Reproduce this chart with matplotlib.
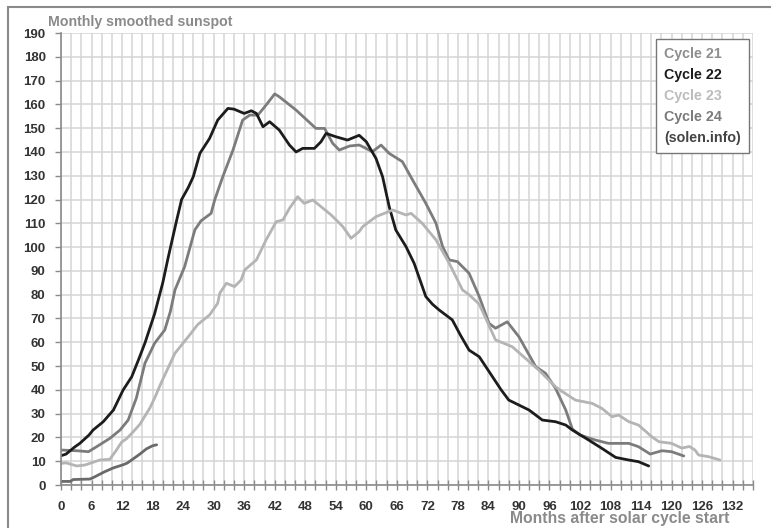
import matplotlib.pyplot as plt
from matplotlib.patches import Rectangle
from matplotlib.ticker import MultipleLocator

plt.rcParams['font.family'] = ['Liberation Sans', 'DejaVu Sans']

# months after cycle start / smoothed sunspot number
c21_m = [0, 2, 3.1, 5.4, 7, 9.6, 11.6, 13.2, 14.8, 16.5, 18.4, 20.4, 21.5, 22.4, 24.3, 26.3, 27.5, 29.5, 30.2,
         31.8, 33.8, 35.7, 37.1, 38.7, 40.3, 42, 42.9, 46.2, 50.1, 51.8, 53.4, 54.7, 56.7, 58.6, 59.3, 61.2,
         62.9, 64.5, 67.1, 69.1, 71.7, 73.7, 75, 76.3, 77.9, 80.2, 82.2, 84.1, 85.4, 87.7, 90, 93.3, 95.2,
         97.2, 99.2, 100.5, 102, 105, 107.6, 111.6, 113.5, 115.8, 118.1, 120, 122.4]
c21_v = [14.7, 14.5, 14.4, 14, 16.1, 19.6, 23.1, 27.3, 36.5, 51.2, 59.6, 65.2, 73, 82, 91.8, 107.2, 111, 114.2, 119.8,
         129.6, 140.8, 153.4, 155.5, 155.5, 159.7, 164.4, 163.2, 157.6, 149.9, 149.9, 143.6, 140.8, 142.5, 142.9, 142.2, 140.1,
         142.9, 139.4, 135.9, 128.2, 118.4, 110, 100.2, 94.6, 93.9, 89, 79.2, 68, 65.9, 68.6, 62.3, 49.7, 47,
         40.6, 31.5, 23.5, 21, 18.9, 17.5, 17.5, 16.1, 13, 14.4, 14, 12.2]

c22_m = [0, 1, 2.7, 3.7, 5.5, 6.3, 8.3, 10.3, 12.2, 13.9, 15.3, 16.5, 18.4, 20, 21, 21.7, 22.7, 23.7, 25, 26,
         27.3, 29.2, 30.8, 32.8, 34, 35.1, 36, 37.4, 38.4, 39.7, 41, 42.9, 44.9, 46.2, 47.5, 49.8, 51.1, 52.1,
         54, 56.3, 58.6, 60, 61.9, 63.2, 64.5, 65.8, 67.8, 69.4, 71.7, 73, 74.3, 76.9, 78.5, 80.2, 82.2, 84.8,
         86.5, 88, 90, 92, 94.6, 97.2, 99.2, 100.5, 103.7, 106.3, 109, 111.6, 113.5, 115.5]
c22_v = [12.3, 13, 16, 17.5, 21, 23.1, 26.6, 31.5, 39.9, 45.5, 53, 59.7, 72, 85, 95, 101.6, 111, 120, 125, 129.6,
         139.4, 145.7, 153.4, 158.3, 158, 157, 156.2, 157.3, 156.2, 150.6, 152.7, 149.2, 142.9, 140, 141.5, 141.5, 144.3, 147.8,
         146.4, 145, 147, 144.3, 137.3, 129.6, 117, 107.2, 100.2, 93.2, 79.2, 76, 73.6, 69.4, 63, 56.7, 53.9, 45.5,
         40, 35.7, 33.6, 31.5, 27.3, 26.6, 25.2, 23.1, 18.9, 15.4, 11.6, 10.5, 9.8, 8]

c23_m = [0, 1, 3.1, 4.7, 5.7, 7.6, 9.6, 10.9, 11.9, 12.9, 13.9, 15.5, 17.5, 18.5, 19.7, 21, 22.4, 25, 26.9, 29.2,
         30.8, 31.2, 32.5, 34.1, 35.4, 36.1, 38.4, 40.3, 42.3, 43.6, 44.9, 46.5, 47.8, 49.5, 51.1, 53.1, 55.4,
         57, 58.6, 59.3, 61.9, 65.2, 67.8, 68.8, 71, 73.7, 76.3, 78.9, 80.2, 82.2, 85.4, 88.7, 93.9, 97.2, 98,
         101.1, 104.4, 106.3, 108.3, 109.6, 111.6, 113.5, 116.1, 117.5, 120, 122, 123.5, 124.6, 125.3, 127.3, 129.5]
c23_v = [9.1, 9.3, 8, 8.4, 9.1, 10.5, 10.8, 14.7, 18, 19.5, 21.7, 25.5, 32.5, 37, 43, 49, 55.4, 62.3, 67.5, 71.5,
         76.4, 80.6, 84.8, 83.4, 86.2, 90.4, 94.6, 103, 110.7, 111.4, 116.3, 121.2, 118.4, 119.8, 117, 113.5, 108.6,
         103.7, 106.5, 108.6, 112.8, 115.6, 113.5, 114.2, 110, 103, 93.2, 82, 80, 76, 61, 58.1, 48.3, 41.3, 40,
         35.7, 34.3, 32.2, 28.7, 29.4, 26.6, 25.2, 20.3, 18.2, 17.5, 15.5, 16.2, 14.7, 12.6, 11.9, 10.5]

c24_m = [0, 1.8, 2.4, 5.7, 6.7, 7.6, 8.6, 10.3, 12.2, 13, 14.2, 15.5, 16.8, 18, 18.8]
c24_v = [1.5, 1.5, 2.3, 2.5, 3.5, 4.5, 5.6, 7.2, 8.5, 9.2, 11, 13, 15.2, 16.5, 16.9]

labels = ['Cycle 21', 'Cycle 22', 'Cycle 23', 'Cycle 24']
line_colors = ['#7c7c7c', '#1c1c1c', '#b4b4b4', '#6a6a6a']
text_colors = ['#8e8e8e', '#1c1c1c', '#bcbcbc', '#7a7a7a', '#444444']

fig = plt.figure(figsize=(7.71, 5.28), dpi=100)
ax = fig.add_axes([61/771, 43/528, 692/771, 452/528])

lines = []
for m, v, c, lab in zip([c21_m, c22_m, c23_m, c24_m], [c21_v, c22_v, c23_v, c24_v], line_colors, labels):
    l, = ax.plot(m, v, color=c, lw=2, label=lab, solid_capstyle='round')
    lines.append(l)

ax.set_xlim(0, 136)
ax.set_ylim(0, 190)
ax.xaxis.set_major_locator(MultipleLocator(6))
ax.xaxis.set_minor_locator(MultipleLocator(2))
ax.yaxis.set_major_locator(MultipleLocator(10))
ax.set_axisbelow(True)
ax.grid(True, which='both', axis='x', color='#d4d4d4', lw=1.1)
ax.grid(True, which='major', axis='y', color='#d4d4d4', lw=1.1)

for s in ['top', 'right']:
    ax.spines[s].set_visible(False)
for s in ['left', 'bottom']:
    ax.spines[s].set_color('#8a8a8a')
    ax.spines[s].set_linewidth(1.2)

ax.tick_params(axis='x', which='both', direction='inout', length=7, color='#8a8a8a', width=1, pad=8)
ax.tick_params(axis='y', direction='out', length=4, color='#8a8a8a', width=1, pad=7)
for t in ax.get_xticklabels() + ax.get_yticklabels():
    t.set_fontweight('bold')
    t.set_fontsize(9.5)
    t.set_color('#333333')

# legend: only coloured text, no line handles
extra = plt.Line2D([], [], color='none')
leg = ax.legend(lines + [extra], labels + ['(solen.info)'], loc='upper right',
                bbox_to_anchor=(0.994, 0.987), borderaxespad=0, handlelength=0, handletextpad=0,
                fancybox=False, framealpha=1, edgecolor='#777777', borderpad=0.55,
                labelspacing=0.5, alignment='center',
                prop={'weight': 'bold', 'size': 10.3})
leg.get_frame().set_linewidth(1)
for t, c in zip(leg.get_texts(), text_colors):
    t.set_color(c)

fig.text(48/771, 1 - 22/528, 'Monthly smoothed sunspot', color='#8a8a8a', fontsize=10.2,
         fontweight='bold', va='center', ha='left')
fig.text(730/771, 1 - 519/528, 'Months after solar cycle start', color='#8a8a8a', fontsize=11.3,
         fontweight='bold', va='center', ha='right')

# grey frame round the whole picture
fig.add_artist(Rectangle((8/771, -0.1), 1.2, 1.1 - 7/528, transform=fig.transFigure,
                         fill=False, edgecolor='#8a8a8a', lw=1.5))

fig.savefig('out.png', dpi=100)
